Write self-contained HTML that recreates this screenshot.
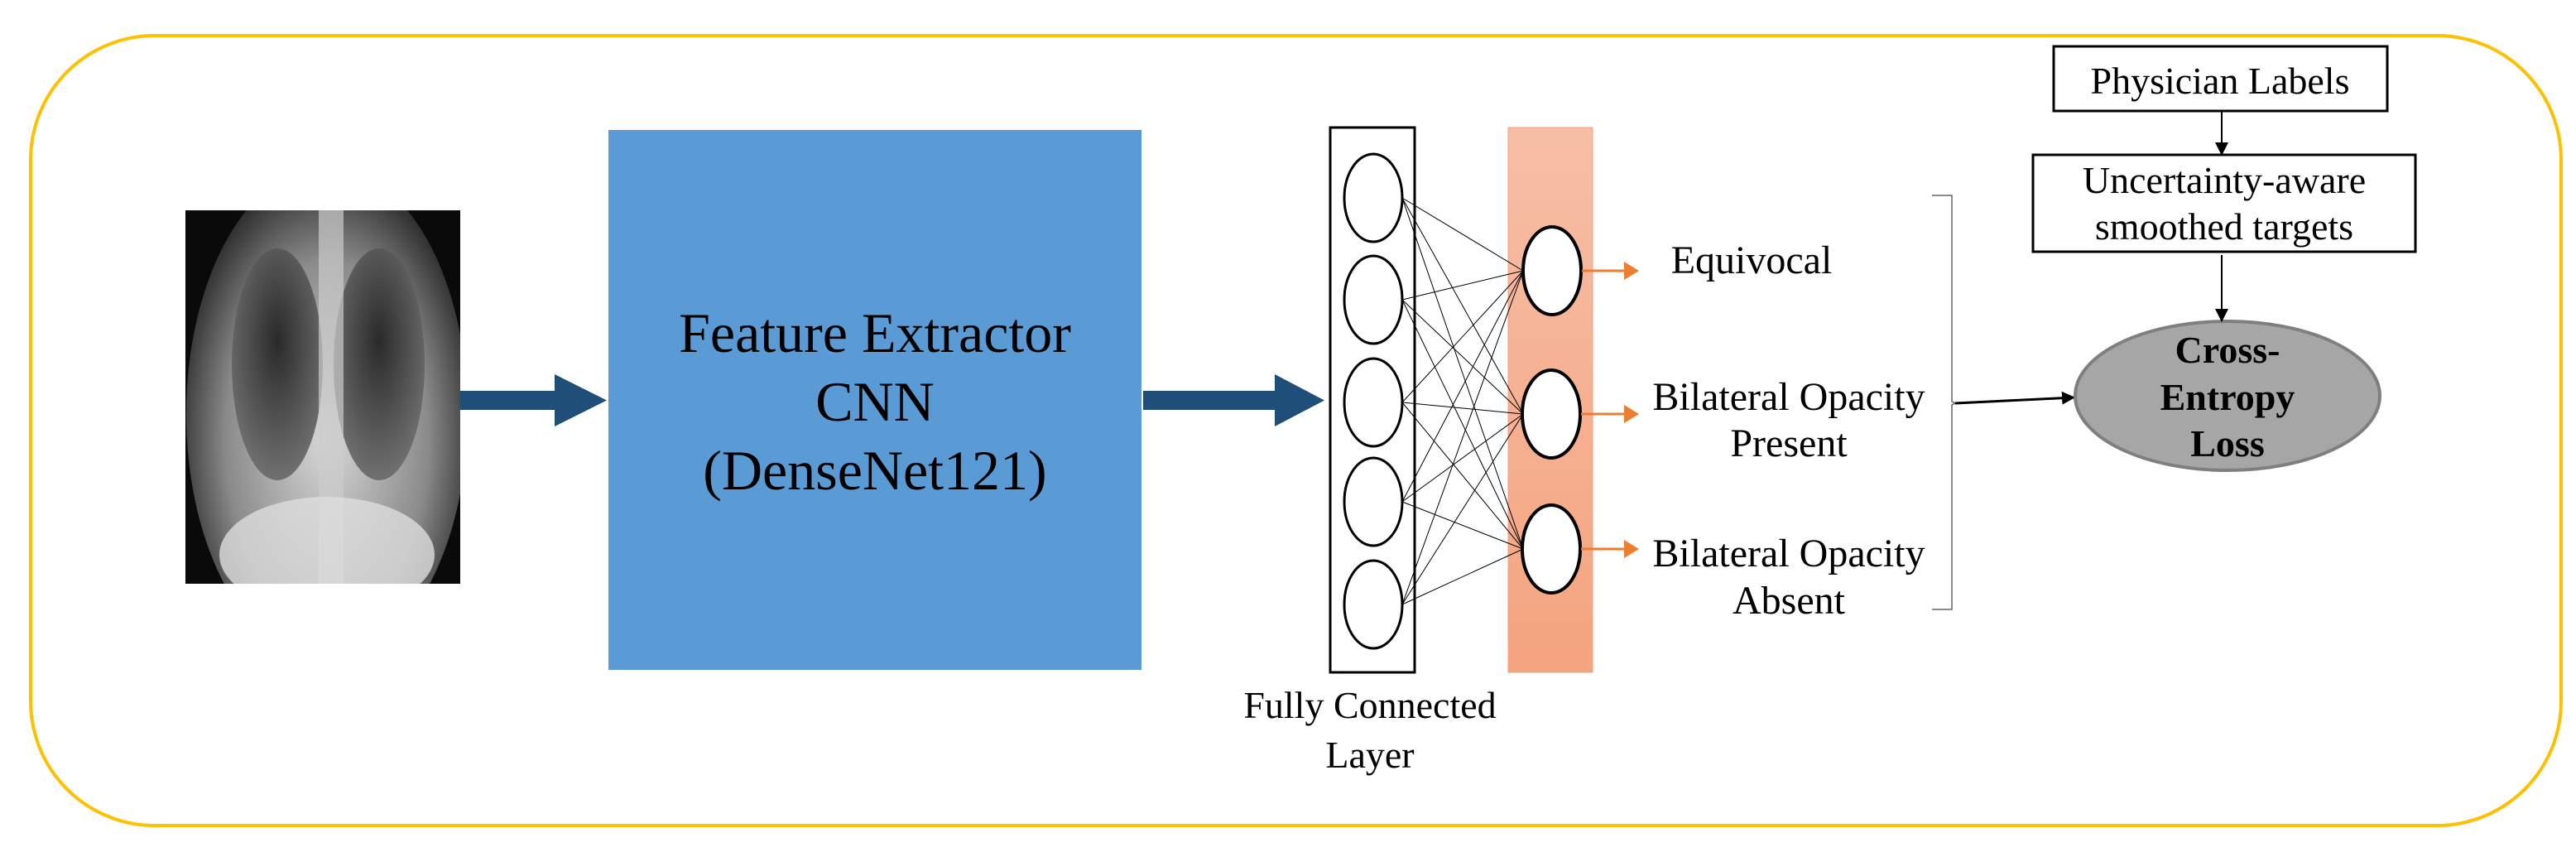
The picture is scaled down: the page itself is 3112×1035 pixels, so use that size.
<!DOCTYPE html>
<html><head><meta charset="utf-8"><style>
body{margin:0;background:#fff}
text{font-family:"Liberation Serif","DejaVu Serif","Times New Roman",serif;fill:#000}
</style></head><body>
<svg width="3112" height="1030" viewBox="0 0 3112 1030" xmlns="http://www.w3.org/2000/svg" font-family="Liberation Serif, DejaVu Serif, serif">
<defs>
<linearGradient id="og" x1="0" y1="0" x2="0" y2="1"><stop offset="0" stop-color="#F7BEA6"/><stop offset="1" stop-color="#F4A47F"/></linearGradient>
<radialGradient id="body" cx="0.5" cy="0.55" r="0.6"><stop offset="0" stop-color="#d8d8d8"/><stop offset="0.6" stop-color="#8a8a8a"/><stop offset="1" stop-color="#111"/></radialGradient>
<radialGradient id="lung" cx="0.5" cy="0.4" r="0.6"><stop offset="0" stop-color="#2a2a2a"/><stop offset="1" stop-color="#707070"/></radialGradient>
<clipPath id="xc"><rect x="224" y="254" width="332" height="451"/></clipPath>
<marker id="ah" markerWidth="12" markerHeight="12" refX="11" refY="6" orient="auto" markerUnits="userSpaceOnUse" viewBox="0 0 12 12"><path d="M0,0 L12,6 L0,12z" fill="#000"/></marker>
<marker id="ah2" markerWidth="16" markerHeight="16" refX="15" refY="8" orient="auto" markerUnits="userSpaceOnUse" viewBox="0 0 16 16"><path d="M0,0 L16,8 L0,16z" fill="#000"/></marker>
</defs>
<rect x="37" y="43" width="3057" height="954" rx="150" ry="150" fill="none" stroke="#FFC000" stroke-width="4"/>
<g clip-path="url(#xc)">
<rect x="224" y="254" width="332" height="451" fill="#0a0a0a"/>
<ellipse cx="395" cy="500" rx="170" ry="300" fill="url(#body)"/>
<ellipse cx="335" cy="440" rx="55" ry="140" fill="url(#lung)"/>
<ellipse cx="458" cy="440" rx="55" ry="140" fill="url(#lung)"/>
<rect x="385" y="254" width="30" height="451" fill="#ccc" opacity="0.7"/>
<ellipse cx="395" cy="670" rx="130" ry="70" fill="#ddd" opacity="0.8"/>
</g>
<path d="M556,472 H670 V452 L733,483.5 L670,515 V495 H556z" fill="#1F4E79"/>
<rect x="735" y="157" width="644" height="652" fill="#5B9BD5"/>
<text x="1057" y="425" font-size="68" text-anchor="middle">Feature Extractor</text>
<text x="1057" y="508" font-size="68" text-anchor="middle">CNN</text>
<text x="1057" y="591" font-size="68" text-anchor="middle">(DenseNet121)</text>
<path d="M1381,472 H1540 V452 L1600,483.5 L1540,515 V495 H1381z" fill="#1F4E79"/>
<rect x="1607" y="154" width="102" height="658" fill="#fff" stroke="#000" stroke-width="3"/>
<rect x="1822" y="154" width="102" height="658" fill="url(#og)" stroke="#F0A080" stroke-width="1"/>
<g stroke="#000" stroke-width="1">
<line x1="1694" y1="239" x2="1840" y2="327"/><line x1="1694" y1="239" x2="1840" y2="500"/><line x1="1694" y1="239" x2="1840" y2="663"/>
<line x1="1694" y1="362" x2="1840" y2="327"/><line x1="1694" y1="362" x2="1840" y2="500"/><line x1="1694" y1="362" x2="1840" y2="663"/>
<line x1="1694" y1="486" x2="1840" y2="327"/><line x1="1694" y1="486" x2="1840" y2="500"/><line x1="1694" y1="486" x2="1840" y2="663"/>
<line x1="1694" y1="606" x2="1840" y2="327"/><line x1="1694" y1="606" x2="1840" y2="500"/><line x1="1694" y1="606" x2="1840" y2="663"/>
<line x1="1694" y1="730" x2="1840" y2="327"/><line x1="1694" y1="730" x2="1840" y2="500"/><line x1="1694" y1="730" x2="1840" y2="663"/>
</g>
<g fill="#fff" stroke="#000" stroke-width="3">
<ellipse cx="1659" cy="239" rx="35" ry="53"/><ellipse cx="1659" cy="362" rx="35" ry="53"/><ellipse cx="1659" cy="486" rx="35" ry="53"/><ellipse cx="1659" cy="606" rx="35" ry="53"/><ellipse cx="1659" cy="730" rx="35" ry="53"/>
<ellipse cx="1875" cy="327" rx="35" ry="53" stroke-width="4"/><ellipse cx="1874" cy="500" rx="35" ry="53" stroke-width="4"/><ellipse cx="1874" cy="663" rx="35" ry="53" stroke-width="4"/>
</g>
<g stroke="#ED7D31" stroke-width="3" fill="#ED7D31">
<line x1="1911" y1="327" x2="1966" y2="327"/><path d="M1962,316 L1980,327 L1962,338z" stroke="none"/>
<line x1="1910" y1="500" x2="1966" y2="500"/><path d="M1962,489 L1980,500 L1962,511z" stroke="none"/>
<line x1="1910" y1="663" x2="1966" y2="663"/><path d="M1962,652 L1980,663 L1962,674z" stroke="none"/>
</g>
<text x="2116" y="330" font-size="48" text-anchor="middle">Equivocal</text>
<text x="2161" y="495" font-size="48" text-anchor="middle">Bilateral Opacity</text>
<text x="2161" y="551" font-size="48" text-anchor="middle">Present</text>
<text x="2161" y="684" font-size="48" text-anchor="middle">Bilateral Opacity</text>
<text x="2161" y="741" font-size="48" text-anchor="middle">Absent</text>
<text x="1655" y="867" font-size="46" text-anchor="middle">Fully Connected</text>
<text x="1655" y="927" font-size="46" text-anchor="middle">Layer</text>
<path d="M2334,236 H2358 V485 L2362,487 L2358,489 V736 H2334" fill="none" stroke="#666" stroke-width="1.5"/>
<line x1="2362" y1="487" x2="2506" y2="480" stroke="#000" stroke-width="3" marker-end="url(#ah2)"/>
<ellipse cx="2691" cy="478" rx="184" ry="90" fill="#A6A6A6" stroke="#7F7F7F" stroke-width="4"/>
<text x="2691" y="438" font-size="46" font-weight="bold" text-anchor="middle">Cross-</text>
<text x="2691" y="495" font-size="46" font-weight="bold" text-anchor="middle">Entropy</text>
<text x="2691" y="551" font-size="46" font-weight="bold" text-anchor="middle">Loss</text>
<rect x="2481" y="56" width="403" height="78" fill="#fff" stroke="#000" stroke-width="3"/>
<text x="2682" y="113" font-size="46" text-anchor="middle">Physician Labels</text>
<line x1="2684" y1="134" x2="2684" y2="187" stroke="#000" stroke-width="2" marker-end="url(#ah2)"/>
<rect x="2456" y="187" width="462" height="117" fill="#fff" stroke="#000" stroke-width="3"/>
<text x="2687" y="233" font-size="46" text-anchor="middle">Uncertainty-aware</text>
<text x="2687" y="289" font-size="46" text-anchor="middle">smoothed targets</text>
<line x1="2684" y1="308" x2="2684" y2="388" stroke="#000" stroke-width="2" marker-end="url(#ah2)"/>
</svg>
</body></html>
